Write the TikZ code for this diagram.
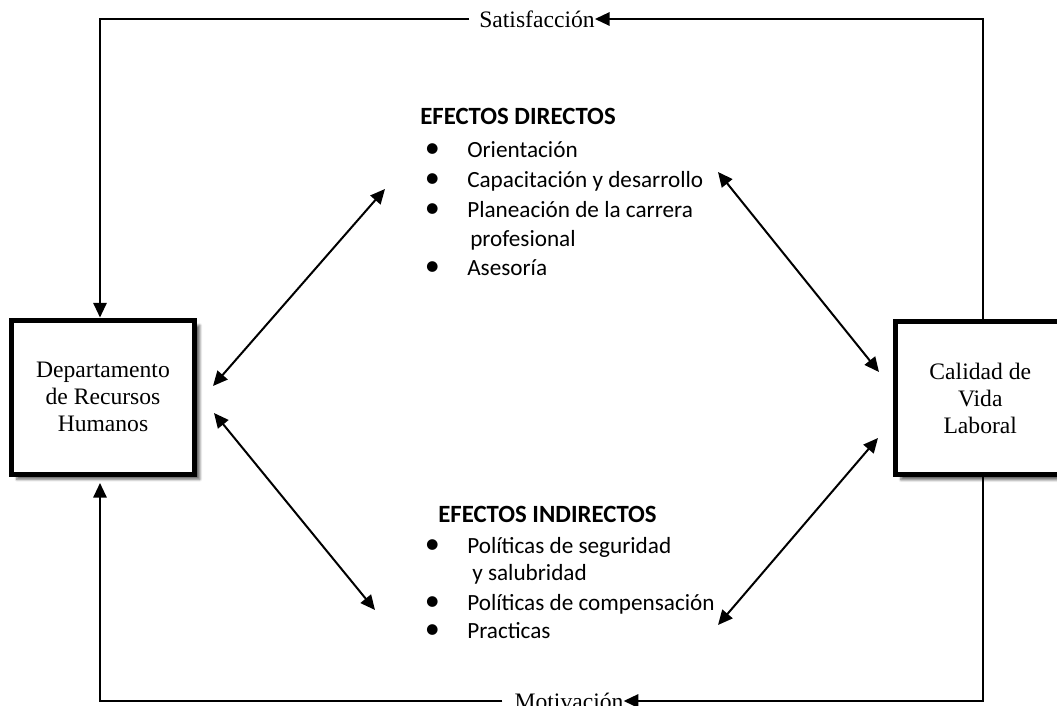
\documentclass[tikz,border=0pt]{standalone}
\usepackage{fontspec}
\setmainfont{Liberation Serif}
\newfontfamily\calibrifont{Carlito}
\usetikzlibrary{arrows.meta,shadows.blur}
\newcommand{\itm}{\makebox[15pt][c]{\scalebox{1.3}{\textbullet}}\hspace{18.75pt}}

\begin{document}
\begin{tikzpicture}[x=0.75pt,y=-0.75pt,
    caja/.style={draw,line width=3.75pt,fill=white,align=center,
      font=\fontsize{17.7}{20.3}\selectfont,
      blur shadow={shadow xshift=4pt,shadow yshift=-4pt,shadow opacity=60,shadow blur steps=6}},
    lbl/.style={inner sep=0pt,font=\fontsize{17.7}{20.3}\selectfont},
    efx/.style={anchor=base west,inner sep=0pt,
      font=\calibrifont\fontsize{17.4}{22}\selectfont},
    tit/.style={efx,font=\calibrifont\bfseries\fontsize{18.6}{22}\selectfont},
    conn/.style={line width=1.5pt},
    flecha/.style={conn,-{Triangle[length=11pt,width=10pt]}},
    dbl/.style={conn,{Triangle[length=11pt,width=10pt]}-{Triangle[length=11pt,width=10pt]}}]
  \useasboundingbox (0,0) rectangle (1057,706);

  % las dos cajas
  \node[caja,minimum width=137.25pt,minimum height=115.5pt] (depto) at (103,397)
    {Departamento\\de Recursos\\Humanos};
  \node[caja,minimum width=127pt,minimum height=114.4pt] (calidad) at (980.25,398.25)
    {Calidad de\\Vida\\Laboral};

  % lazo exterior
  \node[lbl] (satis) at (537,19) {Satisfacción};
  \node[lbl] (motiv) at (569,701) {Motivación};
  \coordinate (der) at (983,0);
  \coordinate (izq) at (100,0);
  \coordinate (izqabajo) at (100,483);
  \draw[flecha] (calidad.north -| der) |- (satis.east);
  \draw[flecha] ([xshift=-7.5pt]satis.west) -| (depto.north -| izq);
  \draw[flecha] (calidad.south -| der) |- (motiv.east);
  \draw[flecha] ([xshift=-9pt]motiv.west) -| (izqabajo);

  % efectos directos
  \node[tit] (dirtit) at (420,125) {EFECTOS DIRECTOS};
  \node[efx] (dir1) at (422,158) {\itm Orientación};
  \node[efx] (dir2) at (422,188) {\itm Capacitación y desarrollo};
  \node[efx] (dir3) at (422,218) {\itm Planeación de la carrera};
  \node[efx] (dir4) at (470,247) {profesional};
  \node[efx] (dir5) at (422,276) {\itm Asesoría};

  % efectos indirectos
  \node[tit] (indtit) at (438,522) {EFECTOS INDIRECTOS};
  \node[efx] (ind1) at (422,553) {\itm Políticas de seguridad};
  \node[efx] (ind2) at (472,580) {y salubridad};
  \node[efx] (ind3) at (422,610) {\itm Políticas de compensación};
  \node[efx] (ind4) at (422,638) {\itm Practicas};

  % flechas dobles
  \coordinate (a1) at (213,386);
  \coordinate (a2) at (385,189);
  \coordinate (b1) at (214,413);
  \coordinate (b2) at (375,610);
  \coordinate (c1) at (718,172);
  \coordinate (c2) at (879,372);
  \coordinate (d1) at (878,438);
  \coordinate (d2) at (718,625);
  \draw[dbl] (a1) -- (a2);
  \draw[dbl] (b1) -- (b2);
  \draw[dbl] (c1) -- (c2);
  \draw[dbl] (d1) -- (d2);
\end{tikzpicture}
\end{document}
